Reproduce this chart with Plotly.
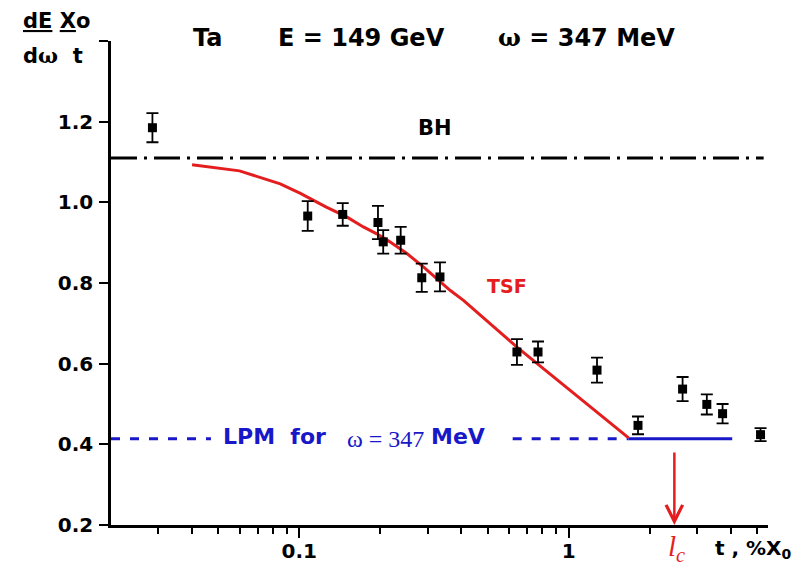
import numpy as np
import plotly.graph_objects as go

# ---------------- data ----------------
t_exp = [0.0285, 0.1075, 0.145, 0.196, 0.205, 0.238, 0.285, 0.333,
         0.643, 0.770, 1.275, 1.81, 2.65, 3.26, 3.73, 5.16]
v_exp = [1.185, 0.966, 0.970, 0.950, 0.902, 0.906, 0.813, 0.815,
         0.629, 0.629, 0.584, 0.447, 0.537, 0.499, 0.476, 0.424]
err_exp = [0.036, 0.037, 0.028, 0.041, 0.029, 0.033, 0.035, 0.036,
           0.032, 0.026, 0.031, 0.022, 0.030, 0.025, 0.024, 0.016]

tsf_t = [0.040, 0.060, 0.085, 0.101, 0.126, 0.150, 0.173, 0.194, 0.217,
         0.251, 0.289, 0.363, 0.407, 0.643, 1.67]
tsf_v = [1.093, 1.078, 1.046, 1.022, 0.988, 0.964, 0.939, 0.922, 0.902,
         0.873, 0.840, 0.782, 0.757, 0.641, 0.416]

bh_level = 1.11
bh_t = [0.02, 5.3]
lpm_level = 0.414
lpm_dash_t1 = [0.02, 0.047]
lpm_dash_t2 = [0.62, 1.67]
lpm_solid_t = [1.67, 4.05]
lc_t = 2.47

x_range = [0.02, 5.5]
y_range = [0.2, 1.4]
x_major_ticks = [0.1, 1]
x_major_labels = ["0.1", "1"]
x_minor_ticks = [0.03, 0.04, 0.05, 0.06, 0.07, 0.08, 0.09,
                 0.2, 0.3, 0.4, 0.5, 0.6, 0.7, 0.8, 0.9,
                 2, 3, 4, 5]
y_ticks = [0.2, 0.4, 0.6, 0.8, 1.0, 1.2, 1.4]
y_labels = ["0.2", "0.4", "0.6", "0.8", "1.0", "1.2", ""]

# ---------------- style ----------------
RED = "#e41e1e"
BLUE = "#1818c8"
SANS = "DejaVu Sans"
SERIF = "Liberation Serif"

W, H = 798, 570
ML, MR, MT, MB = 111, 30, 41, 45
PW, PH = W - ML - MR, H - MT - MB


def P(px, py):
    return (px - ML) / PW, (H - MB - py) / PH


fig = go.Figure()

fig.add_trace(go.Scatter(x=bh_t, y=[bh_level] * len(bh_t), mode="lines",
                         line=dict(color="black", width=3, dash="26px,7px,3px,7px"),
                         hoverinfo="skip"))
for seg in (lpm_dash_t1, lpm_dash_t2):
    fig.add_trace(go.Scatter(x=seg, y=[lpm_level] * len(seg), mode="lines",
                             line=dict(color=BLUE, width=3, dash="9px,10px"),
                             hoverinfo="skip"))
fig.add_trace(go.Scatter(x=lpm_solid_t, y=[lpm_level] * len(lpm_solid_t), mode="lines",
                         line=dict(color=BLUE, width=3), hoverinfo="skip"))
fig.add_trace(go.Scatter(x=tsf_t, y=tsf_v, mode="lines",
                         line=dict(color=RED, width=3), hoverinfo="skip"))
fig.add_trace(go.Scatter(x=t_exp, y=v_exp, mode="markers",
                         marker=dict(symbol="square", size=9, color="black"),
                         error_y=dict(type="data", array=err_exp, visible=True,
                                      color="black", thickness=1.8, width=6)))

ann = []


def text(px, py, s, size, color="black", family=SANS, bold=True, xanchor="left", italic=False):
    x, y = P(px, py)
    ann.append(dict(x=x, y=y, xref="paper", yref="paper", xanchor=xanchor,
                    yanchor="middle", showarrow=False, text=s,
                    font=dict(family=family, size=size, color=color,
                              weight="bold" if bold else "normal",
                              style="italic" if italic else "normal")))


# title pieces
text(191, 38, "Ta", 24)
text(276, 38, "E = 149 GeV", 24)
text(496, 38, "<span style='font-family:DejaVu Serif'>ω</span> = 347 MeV", 24)
# y-axis label (fraction style)
text(21, 21, "<u>dE</u> <u>X</u>o", 21)
text(21, 55, "d<span style='font-family:DejaVu Serif'>ω</span>  t", 21)
# curve labels
text(435, 128, "BH", 21, xanchor="center")
text(507, 286, "TSF", 19, color=RED, xanchor="center")
text(221, 437, "LPM\u00a0\u00a0for", 22, color=BLUE)
text(345, 439, "ω = 347", 24, color=BLUE, family=SERIF, bold=False)
text(487, 437, "MeV", 22, color=BLUE, xanchor="right")
# x-axis label
text(676, 548, "<i>l</i><sub><i>c</i></sub>", 29, color=RED, family=SERIF, bold=False,
     xanchor="center")
text(713, 549, "t , %X<sub>0</sub>", 20)

# l_c arrow
ann.append(dict(x=np.log10(lc_t), y=y_range[0], xref="x", yref="y", ax=0, ay=-74,
                text="", showarrow=True, arrowhead=5, arrowsize=1.3, arrowwidth=2.5,
                arrowcolor=RED, standoff=0))

fig.update_layout(
    width=W, height=H, autosize=False,
    margin=dict(l=ML, r=MR, t=MT, b=MB, pad=0),
    paper_bgcolor="white", plot_bgcolor="white",
    showlegend=False,
    annotations=ann,
    font=dict(family=SANS, color="black"),
    xaxis=dict(type="log", range=[np.log10(x_range[0]), np.log10(x_range[1])],
               showline=True, linecolor="black", linewidth=2.5,
               showgrid=False, zeroline=False, automargin=False,
               ticks="outside", ticklen=10, tickwidth=2, tickcolor="black",
               tickmode="array", tickvals=x_major_ticks, ticktext=x_major_labels,
               tickfont=dict(family=SANS, size=20, color="black", weight="bold"),
               ticklabelstandoff=-4,
               minor=dict(tickmode="array", tickvals=x_minor_ticks, ticks="outside",
                          ticklen=6, tickwidth=2, tickcolor="black", showgrid=False)),
    yaxis=dict(range=y_range, showline=True, linecolor="black", linewidth=2.5,
               showgrid=False, zeroline=False, automargin=False,
               ticks="outside", ticklen=9, tickwidth=2, tickcolor="black",
               tickmode="array", tickvals=y_ticks, ticktext=y_labels,
               tickfont=dict(family=SANS, size=20, color="black", weight="bold"),
               ticklabelstandoff=2),
)

fig.write_html("out.html",
               config={"displayModeBar": False},
               post_script="document.body.style.margin='0px';"
                           "document.body.style.overflow='hidden';")
